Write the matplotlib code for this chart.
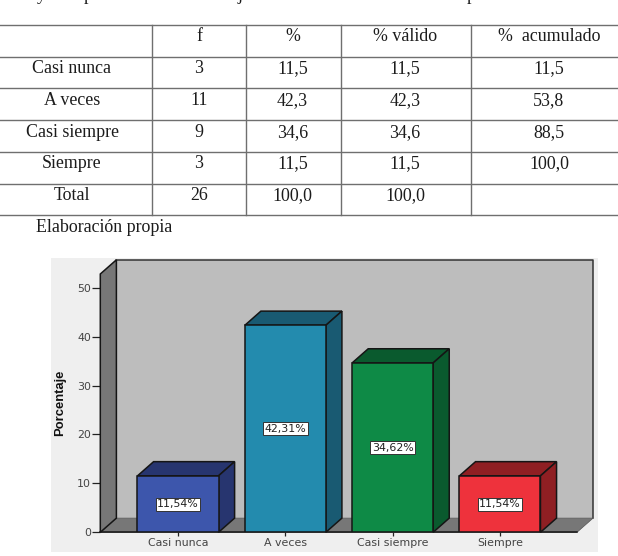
"""Frequency table and 3D-look percentage bars for the survey item."""
import numpy as np
import matplotlib
matplotlib.use('Agg')
import matplotlib.pyplot as plt
from matplotlib.patches import Polygon, Rectangle

W, H = 618, 556
SERIF = 'Liberation Serif'
SANS = 'DejaVu Sans'
INK = '#1c1c1c'
RULE = '#6f6f6f'

# ---------------------------- table contents ---------------------------------
COLUMNS = ['', 'f', '%', '% válido', '%  acumulado']
ROWS = [
    ['Casi nunca', '3', '11,5', '11,5', '11,5'],
    ['A veces', '11', '42,3', '42,3', '53,8'],
    ['Casi siempre', '9', '34,6', '34,6', '88,5'],
    ['Siempre', '3', '11,5', '11,5', '100,0'],
    ['Total', '26', '100,0', '100,0', ''],
]
NOTE = 'Elaboración propia'
TOP_LETTERS = ['y', 'p', 'j', 'p']

# ---------------------------- bar data ---------------------------------------
categories = ['Casi nunca', 'A veces', 'Casi siempre', 'Siempre']
percent = [11.54, 42.31, 34.62, 11.54]
percent_labels = ['11,54%', '42,31%', '34,62%', '11,54%']
y_ticks = [0, 10, 20, 30, 40, 50]
y_label = 'Porcentaje'

front_colors = ['#3d56ac', '#238bae', '#0e8a46', '#ee323c']
side_colors = ['#27356f', '#195a72', '#0a5a2e', '#8f1f23']


def draw_table(ax):
    h_lines = [25, 56.7, 88.3, 120.3, 152.3, 183.7, 215.3]
    v_lines = [152, 246.4, 340.6, 471]
    centers = [72, 199, 292.5, 405, 549]
    for y in h_lines:
        ax.plot([0, W], [y, y], color=RULE, lw=1.0)
    for x in v_lines:
        ax.plot([x, x], [25, 215.3], color=RULE, lw=1.0)
    cells = [COLUMNS] + ROWS
    for r, row in enumerate(cells):
        yc = (h_lines[r] + h_lines[r + 1]) / 2 - 4
        for c, txt in enumerate(row):
            ax.text(centers[c], yc, txt, ha='center', va='center',
                    family=SERIF, fontsize=12.9, color=INK)
    ax.text(36, 227, NOTE, ha='left', va='center', family=SERIF, fontsize=12.9, color=INK)
    # the line above the table is cut by the page edge, only descenders remain
    for x, letter in zip([37, 84, 238, 467], TOP_LETTERS):
        ax.text(x, 0, letter, ha='left', va='baseline', family=SERIF,
                fontsize=12.9, color=INK, clip_on=True)


def draw_chart(fig):
    panel = Rectangle((51 / W, 1 - 552 / H), 547 / W, 294 / H,
                      transform=fig.transFigure, facecolor='#efefef', edgecolor='none', zorder=0)
    fig.add_artist(panel)

    # axes span the front plane of the box; depth is an offset in data units
    ax = fig.add_axes([100.3 / W, 1 - 532.3 / H, 476.7 / W, 258.3 / H])
    ax.set_xlim(-0.724, 3.718)
    ax.set_ylim(0, 52.8)
    ax.patch.set_visible(False)
    dx, dy = 0.15, 2.9
    width = 0.755
    x0, x1 = ax.get_xlim()
    top = ax.get_ylim()[1]
    dark = '#151515'
    edge = {'edgecolor': dark, 'linewidth': 1.1, 'clip_on': False}

    ax.add_patch(Polygon([(x0 + dx, dy), (x1 + dx, dy), (x1 + dx, top + dy), (x0 + dx, top + dy)],
                         facecolor='#bdbdbd', edgecolor='none', clip_on=False, zorder=1))
    ax.plot([x0 + dx, x0 + dx, x1 + dx, x1 + dx], [dy, top + dy, top + dy, dy],
            color='#333333', lw=1.1, clip_on=False, zorder=1.5)
    ax.add_patch(Polygon([(x0, 0), (x1, 0), (x1 + dx, dy), (x0 + dx, dy)],
                         facecolor='#777777', edgecolor='#555555', linewidth=0.5,
                         clip_on=False, zorder=2))
    ax.plot([x0, x1], [0, 0], color=dark, lw=1.1, clip_on=False, zorder=2.2)
    ax.add_patch(Polygon([(x0, 0), (x0 + dx, dy), (x0 + dx, top + dy), (x0, top)],
                         facecolor='#777777', zorder=2.5, **edge))

    xs = np.arange(len(categories))
    for i, (x, v) in enumerate(zip(xs, percent)):
        l, r = x - width / 2, x + width / 2
        ax.add_patch(Polygon([(l, v), (r, v), (r + dx, v + dy), (l + dx, v + dy)],
                             facecolor=side_colors[i], zorder=3, **edge))
        ax.add_patch(Polygon([(r, 0), (r + dx, dy), (r + dx, v + dy), (r, v)],
                             facecolor=side_colors[i], zorder=3, **edge))
    ax.bar(xs, percent, width, color=front_colors, edgecolor=dark, linewidth=1.1, zorder=4)

    for x, v, lab in zip(xs, percent, percent_labels):
        ax.text(x, v / 2, lab, ha='center', va='center', family=SANS, fontsize=7.9,
                color='#222222', zorder=5,
                bbox=dict(boxstyle='square,pad=0.14', facecolor='white', edgecolor='#333333', linewidth=0.7))

    for s in ax.spines:
        ax.spines[s].set_visible(False)
    ax.set_xticks(xs)
    ax.set_xticklabels(categories, family=SANS, fontsize=7.9, color='#444444')
    ax.set_yticks(y_ticks)
    ax.set_yticklabels([str(t) for t in y_ticks], family=SANS, fontsize=7.9, color='#444444')
    ax.tick_params(axis='y', length=5.5, width=0.9, color='#222222', pad=1)
    ax.tick_params(axis='x', length=3, width=0.9, color='#222222', pad=1)
    fig.text(60 / W, 1 - 403 / H, y_label, rotation=90, ha='center', va='center',
             family='Liberation Sans', fontweight='bold', fontsize=9.4, color='#111111')


def main():
    fig = plt.figure(figsize=(W / 100, H / 100), dpi=100, facecolor='white')
    base = fig.add_axes([0, 0, 1, 1])
    base.set_xlim(0, W)
    base.set_ylim(H, 0)
    base.axis('off')
    draw_table(base)
    draw_chart(fig)
    fig.savefig('out.png', dpi=100)
    plt.close(fig)


if __name__ == '__main__':
    main()
